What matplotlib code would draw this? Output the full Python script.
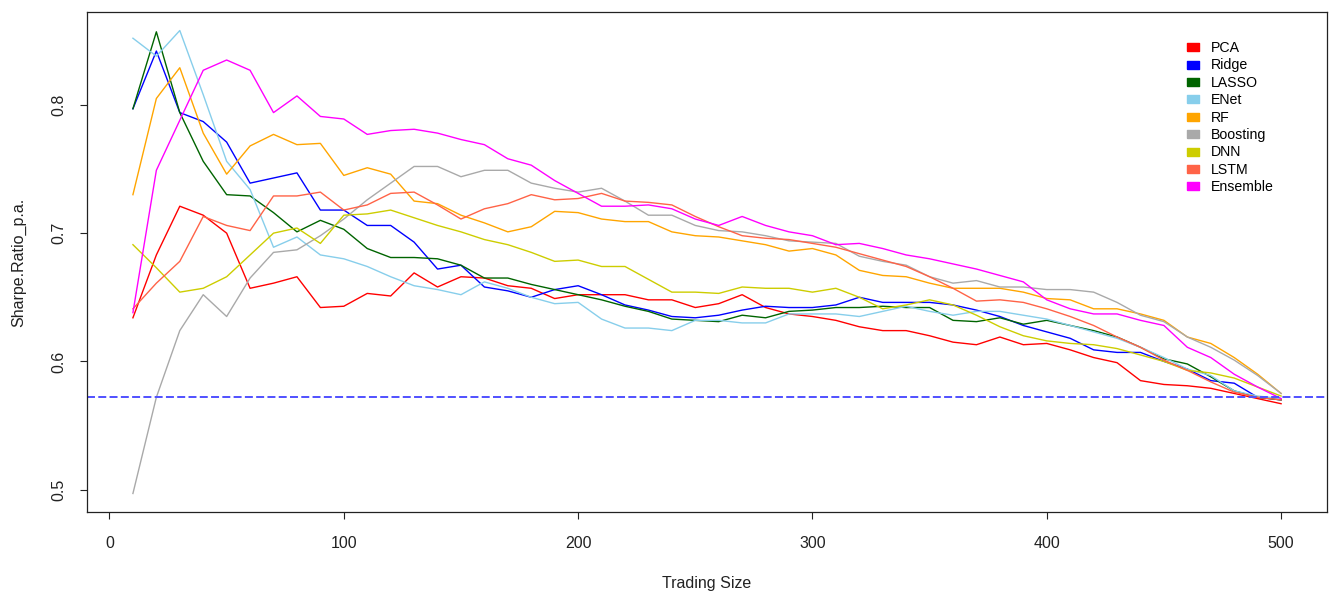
import numpy as np
import matplotlib.pyplot as plt
from matplotlib.lines import Line2D

plt.rcParams['font.family'] = ['Liberation Sans', 'DejaVu Sans']

trading_size = list(range(10, 501, 10))

pca = [0.634, 0.683, 0.721, 0.714, 0.700, 0.657, 0.661, 0.666, 0.642, 0.643,
       0.653, 0.651, 0.669, 0.658, 0.666, 0.665, 0.659, 0.657, 0.649, 0.652,
       0.652, 0.652, 0.648, 0.648, 0.642, 0.645, 0.652, 0.642, 0.637, 0.635,
       0.632, 0.627, 0.624, 0.624, 0.620, 0.615, 0.613, 0.619, 0.613, 0.614,
       0.609, 0.603, 0.599, 0.585, 0.582, 0.581, 0.579, 0.575, 0.571, 0.567]
ridge = [0.797, 0.842, 0.794, 0.787, 0.771, 0.739, 0.743, 0.747, 0.718, 0.718,
         0.706, 0.706, 0.693, 0.672, 0.675, 0.658, 0.655, 0.650, 0.656, 0.659,
         0.652, 0.644, 0.640, 0.635, 0.634, 0.636, 0.640, 0.643, 0.642, 0.642,
         0.644, 0.650, 0.646, 0.646, 0.646, 0.644, 0.640, 0.635, 0.628, 0.623,
         0.618, 0.609, 0.607, 0.607, 0.600, 0.594, 0.585, 0.583, 0.572, 0.570]
lasso = [0.797, 0.857, 0.794, 0.756, 0.730, 0.729, 0.716, 0.701, 0.710, 0.703,
         0.688, 0.681, 0.681, 0.680, 0.675, 0.665, 0.665, 0.660, 0.656, 0.652,
         0.648, 0.643, 0.639, 0.633, 0.632, 0.631, 0.636, 0.634, 0.639, 0.640,
         0.642, 0.642, 0.643, 0.642, 0.642, 0.632, 0.631, 0.634, 0.629, 0.632,
         0.628, 0.624, 0.619, 0.611, 0.602, 0.598, 0.588, 0.577, 0.572, 0.570]
enet = [0.852, 0.838, 0.858, 0.808, 0.756, 0.734, 0.689, 0.697, 0.683, 0.680,
        0.674, 0.666, 0.659, 0.656, 0.652, 0.662, 0.657, 0.650, 0.645, 0.646,
        0.633, 0.626, 0.626, 0.624, 0.632, 0.632, 0.630, 0.630, 0.637, 0.637,
        0.637, 0.635, 0.639, 0.643, 0.639, 0.636, 0.639, 0.639, 0.636, 0.633,
        0.628, 0.623, 0.618, 0.611, 0.603, 0.594, 0.589, 0.577, 0.573, 0.571]
rf = [0.730, 0.805, 0.829, 0.778, 0.746, 0.768, 0.777, 0.769, 0.770, 0.745,
      0.751, 0.746, 0.725, 0.723, 0.714, 0.708, 0.701, 0.705, 0.717, 0.716,
      0.711, 0.709, 0.709, 0.701, 0.698, 0.697, 0.694, 0.691, 0.686, 0.688,
      0.683, 0.671, 0.667, 0.666, 0.661, 0.657, 0.657, 0.657, 0.654, 0.649,
      0.648, 0.641, 0.641, 0.637, 0.632, 0.619, 0.614, 0.603, 0.590, 0.575]
boosting = [0.497, 0.572, 0.624, 0.652, 0.635, 0.665, 0.685, 0.687, 0.698, 0.711,
            0.726, 0.739, 0.752, 0.752, 0.744, 0.749, 0.749, 0.739, 0.735, 0.732,
            0.735, 0.725, 0.714, 0.714, 0.706, 0.702, 0.701, 0.698, 0.694, 0.693,
            0.692, 0.682, 0.678, 0.675, 0.666, 0.661, 0.663, 0.658, 0.658, 0.656,
            0.656, 0.654, 0.646, 0.636, 0.631, 0.619, 0.611, 0.601, 0.589, 0.575]
dnn = [0.691, 0.673, 0.654, 0.657, 0.666, 0.683, 0.700, 0.704, 0.692, 0.714,
       0.715, 0.718, 0.712, 0.706, 0.701, 0.695, 0.691, 0.685, 0.678, 0.679,
       0.674, 0.674, 0.664, 0.654, 0.654, 0.653, 0.658, 0.657, 0.657, 0.654,
       0.657, 0.650, 0.641, 0.644, 0.648, 0.644, 0.636, 0.627, 0.620, 0.616,
       0.614, 0.613, 0.610, 0.605, 0.600, 0.593, 0.591, 0.587, 0.580, 0.573]
lstm = [0.641, 0.661, 0.678, 0.713, 0.706, 0.702, 0.729, 0.729, 0.732, 0.718,
        0.722, 0.731, 0.732, 0.722, 0.711, 0.719, 0.723, 0.730, 0.726, 0.727,
        0.731, 0.725, 0.724, 0.722, 0.713, 0.705, 0.698, 0.696, 0.695, 0.692,
        0.689, 0.684, 0.679, 0.674, 0.666, 0.657, 0.647, 0.648, 0.646, 0.641,
        0.635, 0.628, 0.619, 0.611, 0.601, 0.593, 0.584, 0.576, 0.572, 0.570]
ensemble = [0.638, 0.749, 0.788, 0.827, 0.835, 0.827, 0.794, 0.807, 0.791, 0.789,
            0.777, 0.780, 0.781, 0.778, 0.773, 0.769, 0.758, 0.753, 0.741, 0.731,
            0.721, 0.721, 0.722, 0.719, 0.711, 0.706, 0.713, 0.706, 0.701, 0.698,
            0.691, 0.692, 0.688, 0.683, 0.680, 0.676, 0.672, 0.667, 0.662, 0.648,
            0.641, 0.637, 0.637, 0.632, 0.628, 0.611, 0.603, 0.590, 0.580, 0.571]

names = ['PCA', 'Ridge', 'LASSO', 'ENet', 'RF', 'Boosting', 'DNN', 'LSTM', 'Ensemble']
colors = ['#FF0000', '#0000FF', '#006400', '#87CEEB', '#FFA500', '#A9A9A9', '#CDCD00', '#FF6347', '#FF00FF']
series = [pca, ridge, lasso, enet, rf, boosting, dnn, lstm, ensemble]
benchmark = 0.572

fig = plt.figure(figsize=(13.31, 5.92), dpi=100)
ax = fig.add_axes([87/1331, 1-512/592, (1327-87)/1331, 500/592])

for s, c in zip(series, colors):
    ax.plot(trading_size, s, color=c, linewidth=1.0)
ax.axhline(benchmark, color='#5050FF', linewidth=1.4, dashes=(4.1, 1.7))

# R style 4% padding
allv = np.concatenate([np.array(s) for s in series])
xr = max(trading_size) - min(trading_size)
yr = allv.max() - allv.min()
ax.set_xlim(min(trading_size) - 0.04*xr, max(trading_size) + 0.04*xr)
ax.set_ylim(allv.min() - 0.04*yr, allv.max() + 0.04*yr)

ax.set_xticks([0, 100, 200, 300, 400, 500])
ax.set_yticks([0.5, 0.6, 0.7, 0.8])
ax.set_yticklabels(['0.5', '0.6', '0.7', '0.8'], rotation=90, va='center')
ax.tick_params(direction='out', length=5, width=0.8, labelsize=11.5, colors='#222222')
ax.tick_params(axis='x', pad=12.5)
ax.tick_params(axis='y', pad=10)
for sp in ax.spines.values():
    sp.set_linewidth(0.9)
    sp.set_color('#222222')

ax.set_xlabel('Trading Size', fontsize=11.5, labelpad=18, color='#222222')
ax.set_ylabel('Sharpe.Ratio_p.a.', fontsize=11.5, labelpad=18, color='#222222')

rect = [(-1.0, -0.64), (1.0, -0.64), (1.0, 0.64), (-1.0, 0.64), (-1.0, -0.64)]
handles = [Line2D([], [], linestyle='none', marker=rect, markersize=8, color=c) for c in colors]
ax.legend(handles, names, loc='upper left', bbox_to_anchor=(1180/1331, 1-34/592),
          bbox_transform=fig.transFigure, frameon=False, fontsize=10.2,
          handlelength=0.9, handletextpad=0.8, labelspacing=0.24, borderpad=0)

fig.savefig('out.png', dpi=100)
